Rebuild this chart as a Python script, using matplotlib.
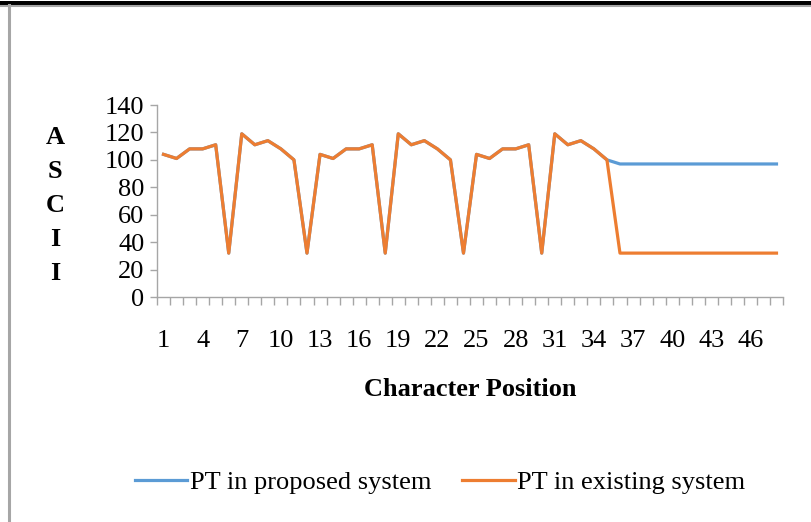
import matplotlib.pyplot as plt
from matplotlib.lines import Line2D
import numpy as np

# character positions 1..48 and ASCII codes of the plaintext
positions = list(range(1, 49))
proposed = [104, 101, 108, 108, 111, 32, 119, 111, 114, 108, 100, 32,
            104, 101, 108, 108, 111, 32, 119, 111, 114, 108, 100, 32,
            104, 101, 108, 108, 111, 32, 119, 111, 114, 108, 100,
            97, 97, 97, 97, 97, 97, 97, 97, 97, 97, 97, 97, 97]
existing = [104, 101, 108, 108, 111, 32, 119, 111, 114, 108, 100, 32,
            104, 101, 108, 108, 111, 32, 119, 111, 114, 108, 100, 32,
            104, 101, 108, 108, 111, 32, 119, 111, 114, 108, 100,
            32, 32, 32, 32, 32, 32, 32, 32, 32, 32, 32, 32, 32]
series_names = ["PT in proposed system", "PT in existing system"]
y_ticks = [0, 20, 40, 60, 80, 100, 120, 140]

blue = "#5B9BD5"
orange = "#ED7D31"
grid_gray = "#A6A6A6"

plt.rcParams["font.family"] = ["Liberation Serif", "DejaVu Serif"]

W, H = 811, 522
fig = plt.figure(figsize=(W / 100, H / 100), dpi=100)

# outer frame bits: thick top rule and grey left border
fig.add_artist(Line2D([0, 1], [1 - 2.5 / H, 1 - 2.5 / H], color="black", lw=3.6))
fig.add_artist(Line2D([0, 1], [1 - 5.5 / H, 1 - 5.5 / H], color=grid_gray, lw=1.5))
fig.add_artist(Line2D([8.5 / W, 8.5 / W], [0, 1 - 5 / H], color=grid_gray, lw=2.2))

ax = fig.add_axes([157 / W, 1 - 297 / H, (783 - 157) / W, (297 - 105) / H])

idx = np.arange(len(positions))
ax.plot(idx, proposed, color=blue, lw=2.3, solid_joinstyle="round")
ax.plot(idx, existing, color=orange, lw=2.3, solid_joinstyle="round")

ax.set_xlim(-0.5, len(positions) - 0.5)
ax.set_ylim(0, 140)

for s in ["top", "right"]:
    ax.spines[s].set_visible(False)
for s in ["left", "bottom"]:
    ax.spines[s].set_color(grid_gray)
    ax.spines[s].set_linewidth(1.0)

ax.set_yticks(y_ticks)
ax.set_yticklabels([str(v) for v in y_ticks])
ax.tick_params(axis="y", direction="out", length=5, color=grid_gray,
               labelsize=19, pad=4, width=1.0)

ax.set_xticks(np.arange(len(positions) + 1) - 0.5)
ax.set_xticklabels([])
ax.tick_params(axis="x", which="major", direction="out", length=6,
               color=grid_gray, width=1.0)
lab_idx = idx[::3]
ax.set_xticks(lab_idx, minor=True)
ax.set_xticklabels([str(positions[i]) for i in lab_idx], minor=True)
ax.tick_params(axis="x", which="minor", length=0, labelsize=19, pad=24)

# stacked y label
for k, ch in enumerate("ASCII"):
    fig.text(55 / W, 1 - (137 + 34 * k) / H, ch, fontsize=19,
             fontweight="bold", ha="center", va="center")

fig.text(470 / W, 1 - 390 / H, "Character Position", fontsize=19,
         fontweight="bold", ha="center", va="center")

handles = [Line2D([], [], color=blue, lw=2.3), Line2D([], [], color=orange, lw=2.3)]
fig.legend(handles, series_names, loc="center", bbox_to_anchor=(440 / W, 1 - 482 / H),
           ncol=2, frameon=False, fontsize=19, handlelength=2.0,
           handletextpad=0.1, columnspacing=1.15)

fig.savefig("out.png", dpi=100)
